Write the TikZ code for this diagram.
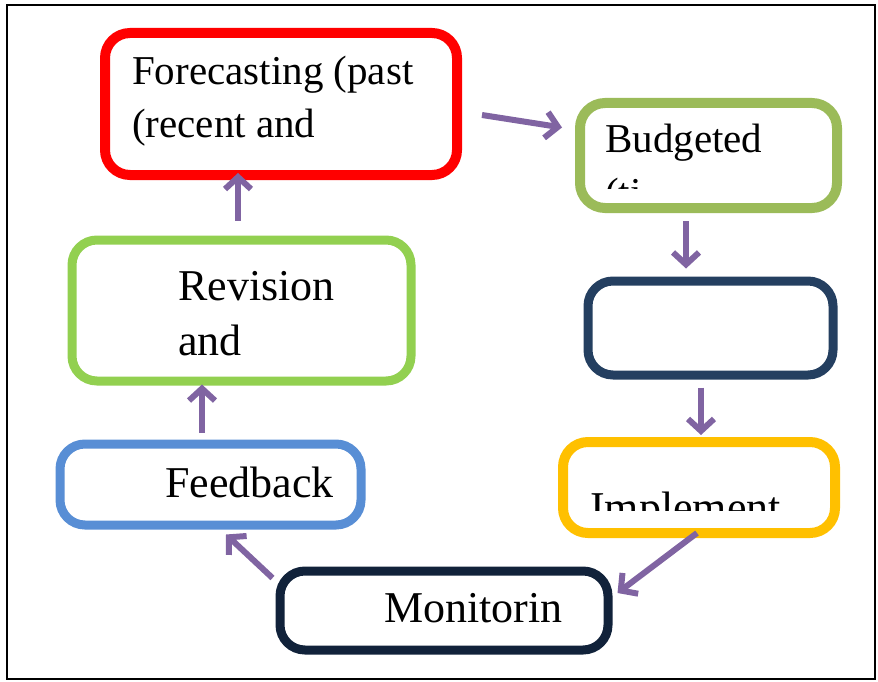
\documentclass[tikz,border=0pt]{standalone}
\usepackage{fontspec}
\setmainfont{Liberation Serif}
\usetikzlibrary{arrows.meta, calc}
\definecolor{boxred}{RGB}{255,0,0}
\definecolor{boxolive}{RGB}{155,187,89}
\definecolor{boxnavy}{RGB}{36,63,96}
\definecolor{boxyellow}{RGB}{255,192,0}
\definecolor{boxdark}{RGB}{17,34,58}
\definecolor{boxblue}{RGB}{88,142,213}
\definecolor{boxgreen}{RGB}{146,208,80}
\definecolor{basepurple}{RGB}{128,100,162}

\begin{document}
\begin{tikzpicture}[x=1pt, y=-1pt]
  \tikzset{
    round_box/.style args={#1/#2/#3}{
      rectangle, rounded corners=25pt, draw=#1, line width=9pt, fill=white,
      minimum width=#2pt, minimum height=#3pt, inner sep=0pt
    },
    box_text/.style={anchor=base west, inner sep=0pt, font=\fontsize{44}{53}\selectfont},
    top_text/.style={box_text, font=\fontsize{41}{53}\selectfont},
    flow_arrow/.style={-{Straight Barb[length=12pt, width=26pt]}, line width=6pt, draw=basepurple}
  }
  \useasboundingbox (0,0) rectangle (878,682);

  % Draw the thin outer frame
  \draw[line width=2.5pt] (7,5) rectangle (875,679);

  % Draw the boxes of the cycle
  \node[round_box=boxred/352/142, line width=10pt] (fcast) at (281,104) {};
  \node[round_box=boxolive/257/105, line width=10pt] (budget) at (708.5,155.5) {};
  \node[round_box=boxnavy/245/94] (plan) at (710.5,328) {};
  \node[round_box=boxyellow/272/91, line width=10pt] (impl) at (699,487.5) {};
  \node[round_box=boxdark/328/79] (monit) at (444,610.5) {};
  \node[round_box=boxblue/301/81] (fback) at (210.5,484.5) {};
  \node[round_box=boxgreen/339/141] (revis) at (241.5,310.5) {};

  % Draw the texts inside the boxes
  \node[top_text] (fcast-a) at (132,85) {Forecasting (past};
  \node[top_text] (fcast-b) at (132,138) {(recent and};
  \node[top_text] (budget-a) at (605,153) {Budgeted};
  \begin{scope}
    \clip (583,106) rectangle (834,188);
    \node[top_text] (budget-b) at (605,206) {(ti};
  \end{scope}
  \node[box_text] (revis-a) at (178,300) {Revision};
  \node[box_text] (revis-b) at (178,355) {and};
  \node[box_text] (fback-a) at (165,497) {Feedback};
  \node[box_text] (monit-a) at (384,622) {Monitorin};
  \begin{scope}
    \clip (566,446) rectangle (832,510);
    \node[box_text] (impl-a) at (590,522) {Implement};
  \end{scope}

  % Draw the purple arrows round the cycle
  \draw[flow_arrow] ($(fcast.east)+(20,11)$) -- ($(budget.west)+(-13,-28)$);
  \draw[flow_arrow] ($(budget.south)+(-22.5,8)$) -- ($(plan.north)+(-24.5,-8)$);
  \draw[flow_arrow] ($(plan.south)+(-9.5,8)$) -- ($(impl.north)+(2,-2)$);
  \draw[flow_arrow] ($(impl.south)+(-2,-5)$) -- ($(monit.east)+(5,-17.5)$);
  \draw[flow_arrow] ($(monit.west)+(-3,-32.5)$) -- ($(fback.south)+(15.5,5)$);
  \draw[flow_arrow] ($(fback.north)+(-8.5,-7)$) -- ($(revis.south)+(-39.5,-1)$);
  \draw[flow_arrow] ($(revis.north)+(-3.5,-15)$) -- ($(fcast.south)+(-43,-7)$);
\end{tikzpicture}
\end{document}
